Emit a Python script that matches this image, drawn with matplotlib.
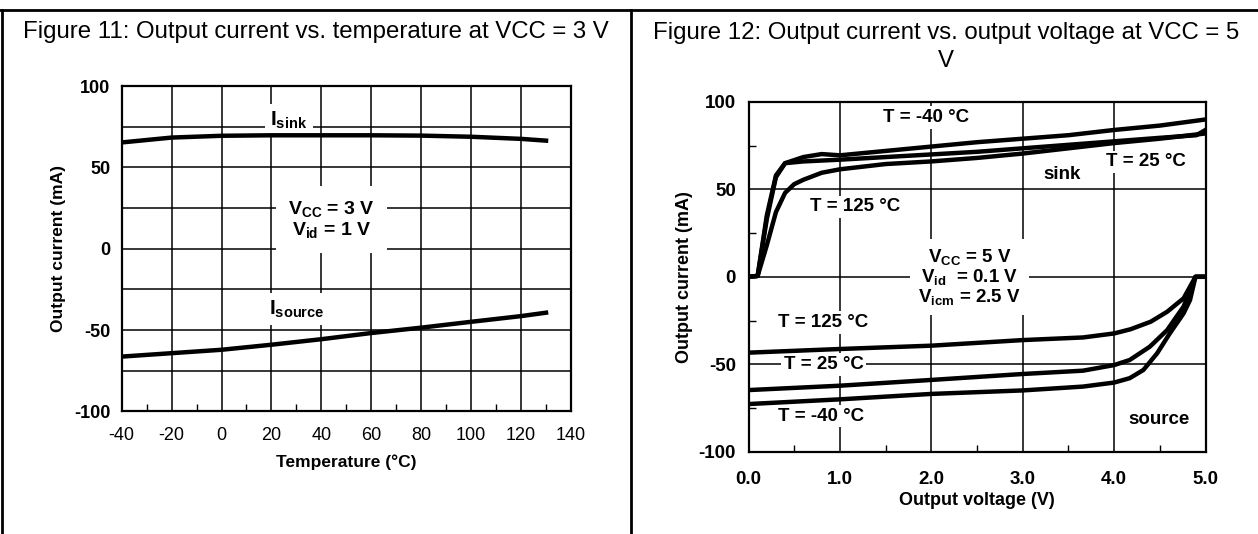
import matplotlib
matplotlib.use("Agg")
import matplotlib.pyplot as plt
from matplotlib.lines import Line2D

plt.rcParams['font.family'] = ['Liberation Sans', 'DejaVu Sans']
plt.rcParams['mathtext.fontset'] = 'custom'
plt.rcParams['mathtext.rm'] = 'Liberation Sans'
plt.rcParams['mathtext.bf'] = 'Liberation Sans:bold'
plt.rcParams['mathtext.it'] = 'Liberation Sans:italic'
plt.rcParams['axes.unicode_minus'] = False

# ---- Figure 11 data: output current vs temperature (VCC = 3 V)
temps = [-40, -20, 0, 20, 40, 60, 80, 100, 120, 130]
i_sink = [65.4, 68.4, 69.5, 69.8, 69.8, 69.8, 69.6, 68.9, 67.6, 66.5]
i_source = [-66.3, -64.2, -62.1, -59.0, -55.6, -51.8, -48.5, -44.9, -41.4, -39.3]
temp_ticks = [-40, -20, 0, 20, 40, 60, 80, 100, 120, 140]

# ---- Figure 12 data: output current vs output voltage (VCC = 5 V)
sink_m40_v = [0, 0.1, 0.2, 0.3, 0.4, 0.6, 0.8, 1.0, 1.5, 2.0, 2.5, 3.0, 3.5, 4.0, 4.5, 5.0]
sink_m40_i = [0, 0.5, 35, 58, 65, 68.5, 70.2, 69.5, 72, 74.5, 77, 79, 81, 84, 86.5, 90]
sink_25_v = [0, 0.1, 0.2, 0.3, 0.4, 0.6, 1.0, 1.5, 2.0, 2.5, 3.0, 3.5, 4.0, 4.5, 4.9, 5.0]
sink_25_i = [0, 0.5, 33, 57, 65, 66, 67, 68.5, 70, 71.5, 73.5, 75.5, 77.5, 79.5, 81, 84]
sink_125_v = [0, 0.1, 0.2, 0.3, 0.4, 0.5, 0.6, 0.8, 1.0, 1.5, 2.0, 2.5, 3.0, 3.5, 4.0, 4.5, 5.0]
sink_125_i = [0, 0.5, 18, 37, 48, 53, 55.5, 59.5, 61.5, 64.5, 66, 68, 70.5, 73.5, 76.5, 79, 82]

src_125_v = [0, 1.0, 2.0, 3.0, 3.66, 4.0, 4.18, 4.4, 4.58, 4.76, 4.89, 5.0]
src_125_i = [-43.4, -41.3, -39.4, -36.2, -34.7, -32.4, -30.0, -25.7, -20.0, -12.3, 0, 0]
src_25_v = [0, 1.0, 2.0, 3.0, 3.66, 4.0, 4.17, 4.39, 4.58, 4.76, 4.89, 5.0]
src_25_i = [-64.8, -62.3, -59.0, -55.6, -53.7, -50.5, -47.6, -40.0, -30.5, -17.0, 0, 0]
src_m40_v = [0, 1.0, 2.0, 3.0, 3.66, 4.0, 4.17, 4.32, 4.47, 4.61, 4.76, 4.83, 4.89, 5.0]
src_m40_i = [-72.8, -70.1, -67.0, -65.0, -62.8, -60.5, -58.0, -53.3, -43.8, -32.3, -20.9, -13.3, 0, 0]
volt_ticks = [0, 1, 2, 3, 4, 5]
volt_labels = ['0.0', '1.0', '2.0', '3.0', '4.0', '5.0']

fig = plt.figure(figsize=(12.58, 5.34), dpi=100)

# table-like borders
fig.add_artist(Line2D([0.0, 1.0], [0.981, 0.981], color='black', lw=2.0))
fig.add_artist(Line2D([0.0018, 0.0018], [0.0, 0.981], color='black', lw=2.0))
fig.add_artist(Line2D([0.5012, 0.5012], [0.0, 0.981], color='black', lw=2.0))

fig.text(0.251, 0.94, 'Figure 11: Output current vs. temperature at VCC = 3 V',
         ha='center', va='center', fontsize=17.3)
fig.text(0.752, 0.912, 'Figure 12: Output current vs. output voltage at VCC = 5\nV',
         ha='center', va='center', fontsize=17.3, linespacing=1.38)

box = dict(facecolor='white', edgecolor='none', pad=2)

# ================= Figure 11 =================
ax1 = fig.add_axes([0.0967, 0.2296, 0.3572, 0.609])
ax1.plot(temps, i_sink, color='black', lw=3.2, zorder=4)
ax1.plot(temps, i_source, color='black', lw=3.2, zorder=4)
ax1.set_xlim(-40, 140)
ax1.set_ylim(-100, 100)
ax1.set_xticks(temp_ticks)
ax1.set_xticks(range(-30, 140, 20), minor=True)
ax1.set_yticks([-100, -50, 0, 50, 100])
ax1.set_yticks([-75, -25, 25, 75], minor=True)
ax1.grid(True, which='major', color='black', lw=1.1)
ax1.grid(True, which='minor', axis='y', color='black', lw=1.1)
ax1.set_axisbelow(True)
ax1.tick_params(which='major', length=0, labelsize=13)
ax1.tick_params(axis='x', which='major', pad=11)
ax1.tick_params(axis='y', which='major', pad=8)
ax1.tick_params(which='minor', axis='y', length=0)
ax1.tick_params(which='minor', axis='x', direction='in', length=5, width=1)
for lab in ax1.get_yticklabels():
    lab.set_fontweight('bold')
for sp in ax1.spines.values():
    sp.set_linewidth(1.6)
ax1.set_xlabel('Temperature (°C)', fontsize=12.5, fontweight='bold', labelpad=8)
ax1.set_ylabel('Output current (mA)', fontsize=12.5, fontweight='bold', labelpad=6)

ax1.text(27, 79, r'$\mathbf{I_{sink}}$', fontsize=15, ha='center', va='center',
         bbox=dict(facecolor='white', edgecolor='none', pad=4))
ax1.text(30, -37, r'$\mathbf{I_{source}}$', fontsize=15, ha='center', va='center',
         bbox=dict(facecolor='white', edgecolor='none', pad=4))
ax1.text(44, 18, r'$\mathbf{V_{CC}}$ = 3 V' + '\n' + r'$\mathbf{V_{id}}$ = 1 V',
         fontsize=14, fontweight='bold', ha='center', va='center', linespacing=1.1,
         bbox=dict(facecolor='white', edgecolor='none', pad=9))

# ================= Figure 12 =================
ax2 = fig.add_axes([0.595, 0.1543, 0.3633, 0.6547])
for v, i in [(sink_m40_v, sink_m40_i), (sink_25_v, sink_25_i), (sink_125_v, sink_125_i),
             (src_125_v, src_125_i), (src_25_v, src_25_i), (src_m40_v, src_m40_i)]:
    ax2.plot(v, i, color='black', lw=3.2, zorder=4, solid_joinstyle='round')
ax2.set_xlim(0, 5)
ax2.set_ylim(-100, 100)
ax2.set_xticks(volt_ticks)
ax2.set_xticklabels(volt_labels)
ax2.set_xticks([0.5, 1.5, 2.5, 3.5, 4.5], minor=True)
ax2.set_yticks([-100, -50, 0, 50, 100])
ax2.set_yticks([-75, -25, 25, 75], minor=True)
ax2.grid(True, which='major', color='black', lw=1.1)
ax2.set_axisbelow(True)
ax2.tick_params(which='major', length=0, labelsize=13.5)
ax2.tick_params(axis='x', which='major', pad=14)
ax2.tick_params(axis='y', which='major', pad=9)
ax2.tick_params(which='minor', direction='in', length=5, width=1)
for lab in ax2.get_xticklabels() + ax2.get_yticklabels():
    lab.set_fontweight('bold')
for sp in ax2.spines.values():
    sp.set_linewidth(1.6)
ax2.set_xlabel('Output voltage (V)', fontsize=13, fontweight='bold', labelpad=3)
ax2.set_ylabel('Output current (mA)', fontsize=13, fontweight='bold', labelpad=4)

lbl = dict(fontsize=13.5, fontweight='bold', ha='center', va='center')
ax2.text(1.94, 91, 'T = -40 °C', bbox=box, **lbl)
ax2.text(4.35, 65.7, 'T = 25 °C', bbox=box, **lbl)
ax2.text(3.43, 58.5, 'sink', bbox=box, **lbl)
ax2.text(1.17, 40, 'T = 125 °C', bbox=box, **lbl)
ax2.text(2.42, 0, r'$\mathbf{V_{CC}}$ = 5 V' + '\n' + r'$\mathbf{V_{id}}$  = 0.1 V' + '\n'
         + r'$\mathbf{V_{icm}}$ = 2.5 V', linespacing=1.0,
         bbox=dict(facecolor='white', edgecolor='none', pad=6), **lbl)
ax2.text(0.82, -26.3, 'T = 125 °C', bbox=box, **lbl)
ax2.text(0.82, -50.1, 'T = 25 °C', bbox=box, **lbl)
ax2.text(0.79, -79.7, 'T = -40 °C', bbox=box, **lbl)
ax2.text(4.49, -81.9, 'source', bbox=box, **lbl)

fig.savefig('out.png', dpi=100)
